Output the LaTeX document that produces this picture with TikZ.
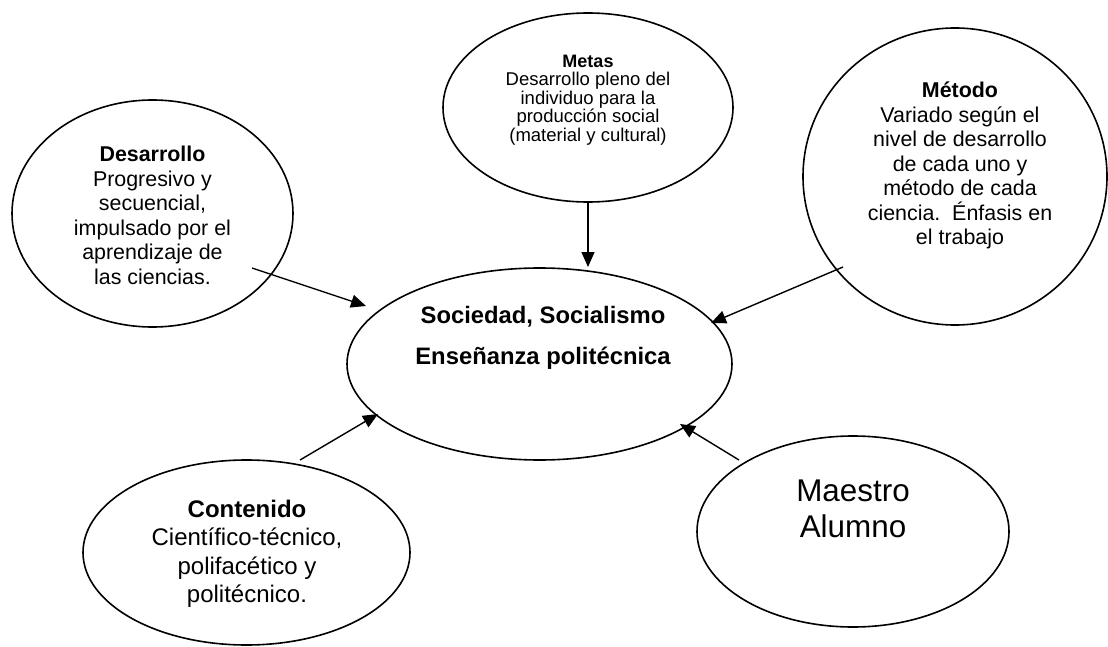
\documentclass[tikz,border=0pt]{standalone}
\usepackage{fontspec}
\setmainfont{Liberation Sans}
\usetikzlibrary{shapes.geometric,arrows.meta}
\begin{document}
\begin{tikzpicture}[x=1pt,y=-1pt,
  oval/.style={draw,ellipse,line width=1.6pt,inner sep=0pt},
  lbl/.style={align=center,inner sep=0pt,anchor=north},
  conn/.style={-{Triangle[length=15pt,width=13pt]},line width=1.4pt}]
\useasboundingbox (0,0) rectangle (1108,647);
% ellipses
\node[oval,minimum width=281pt,minimum height=227pt] (des) at (152.5,213.5) {};
\node[oval,minimum width=290pt,minimum height=189pt] (met) at (588,107.5) {};
\node[oval,minimum width=304pt,minimum height=297pt] (mto) at (955,176.5) {};
\node[oval,minimum width=385pt,minimum height=192pt] (soc) at (539.5,364) {};
\node[oval,minimum width=327pt,minimum height=185pt] (con) at (246.5,552.5) {};
\node[oval,minimum width=312pt,minimum height=191pt] (mae) at (853,531.5) {};
% texts
\node[lbl,font=\fontsize{21.4}{24.6}\selectfont] (tdes) at (152.5,145.7)
  {\textbf{Desarrollo}\\Progresivo y\\secuencial,\\impulsado por el\\aprendizaje de\\las ciencias.};
\node[lbl,font=\fontsize{18.5}{18.5}\selectfont] (tmet) at (588,54.5)
  {{\fontsize{18}{18.5}\selectfont\textbf{Metas}}\\Desarrollo pleno del\\individuo para la\\producción social\\(material y cultural)};
\node[lbl,font=\fontsize{21.4}{24.5}\selectfont] (tmto) at (960,82)
  {\textbf{Método}\\Variado según el\\nivel de desarrollo\\de cada uno y\\método de cada\\ciencia.\ \ Énfasis en\\el trabajo};
\node[lbl,font=\fontsize{23.8}{41}\selectfont\bfseries] (tsoc) at (543,306)
  {Sociedad, Socialismo\\Enseñanza politécnica};
\node[lbl,font=\fontsize{24}{28.3}\selectfont] (tcon) at (247,500)
  {\textbf{Contenido}\\Científico-técnico,\\polifacético y\\politécnico.};
\node[lbl,font=\fontsize{31.4}{36}\selectfont] (tmae) at (853,479.5)
  {Maestro\\Alumno};
% connector end points
\coordinate (a1) at (252,268);  \coordinate (b1) at (366,306);
\coordinate (a2) at (588,202);  \coordinate (b2) at (588,267);
\coordinate (a3) at (843,267);  \coordinate (b3) at (711,323);
\coordinate (a4) at (300,460);  \coordinate (b4) at (378,414);
\coordinate (a5) at (739,460);  \coordinate (b5) at (680,424);
\draw[conn] (a1) -- (b1);
\draw[conn] (a2) -- (b2);
\draw[conn] (a3) -- (b3);
\draw[conn] (a4) -- (b4);
\draw[conn] (a5) -- (b5);
\end{tikzpicture}
\end{document}
